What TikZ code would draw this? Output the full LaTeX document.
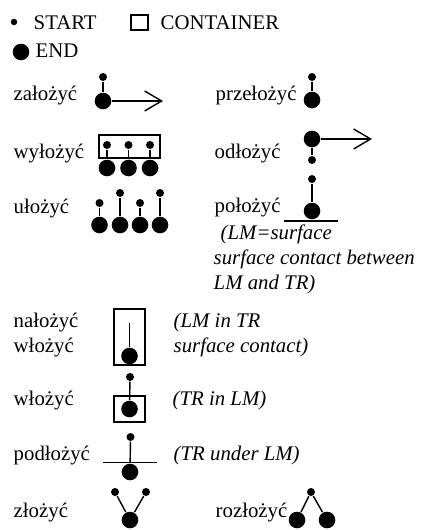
\documentclass[tikz,border=0pt]{standalone}
\usepackage{fontspec}
\setmainfont{Liberation Serif}
\usetikzlibrary{arrows.meta}
\begin{document}
\begin{tikzpicture}[x=1pt,y=-1pt,
  line width=1.4pt,
  sdot/.style={circle,fill=black,draw=none,inner sep=0pt,minimum size=8pt},
  bdot/.style={circle,fill=black,draw=none,inner sep=0pt,minimum size=16.6pt},
  lbl/.style={anchor=base west,inner sep=0pt,font=\fontsize{20.8}{25}\selectfont},
  note/.style={lbl,font=\fontsize{20.8}{25}\selectfont\itshape},
  stem/.style={line width=1.4pt},
  arr/.style={-{Straight Barb[length=17pt,width=20pt,line width=1.4pt]},line width=1.4pt},
  box/.style={line width=1.6pt}]
\useasboundingbox (0,0) rectangle (424,530);

% legend
\node[circle,fill=black,inner sep=0pt,minimum size=6.5pt] (legS) at (14,22) {};
\node[lbl] (legStart) at (33,29) {START};
\draw[box] (131,15) rectangle (148,30);
\node[lbl] (legCont) at (160,29) {CONTAINER};
\node[bdot] (legE) at (21,52) {};
\node[lbl] (legEnd) at (35,57) {END};

% założyć
\node[lbl] (t1) at (13,100) {założyć};
\node[sdot] (z1s) at (103,77) {};
\node[bdot] (z1b) at (103,101) {};
\coordinate (z1e) at (163,101);
\draw[stem] (z1s) -- (z1b);
\draw[arr] (z1b) -- (z1e);

% przełożyć
\node[lbl] (t2) at (215,100) {przełożyć};
\node[sdot] (p1s) at (312,77) {};
\node[bdot] (p1b) at (312,100) {};
\draw[stem] (p1s) -- (p1b);

% wyłożyć
\node[lbl] (t3) at (13,158) {wyłożyć};
\draw[box] (99,135) rectangle (160,158);
\foreach \i/\x in {1/107,2/128.5,3/150}{
  \node[sdot] (w\i s) at (\x,145) {};
  \node[bdot] (w\i b) at (\x,168) {};
  \draw[stem] (w\i s) -- (w\i b);
}

% odłożyć
\node[lbl] (t4) at (214,158) {odłożyć};
\node[bdot] (o1b) at (312,139) {};
\node[sdot] (o1s) at (312,160) {};
\coordinate (o1e) at (372,139);
\draw[stem] (o1b) -- (o1s);
\draw[arr] (o1b) -- (o1e);

% ułożyć
\node[lbl] (t5) at (13,213) {ułożyć};
\foreach \i/\x/\y in {1/99.5/203,2/120/193,3/140/203,4/160/193}{
  \node[sdot] (u\i s) at (\x,\y) {};
  \node[bdot] (u\i b) at (\x,225) {};
  \draw[stem] (u\i s) -- (u\i b);
}

% położyć
\node[lbl] (t6) at (214,212) {położyć};
\node[sdot] (l1s) at (312,179) {};
\node[bdot] (l1b) at (312,211) {};
\coordinate (l1a) at (284,221);
\coordinate (l1c) at (338,221);
\draw[stem] (l1s) -- (l1b);
\draw[stem] (l1a) -- (l1c);
\node[note] (n1) at (220,239) {(LM=surface};
\node[note] (n2) at (213,264) {surface contact between};
\node[note] (n3) at (213,289) {LM and TR)};

% nałożyć / włożyć
\node[lbl] (t7) at (13,327) {nałożyć};
\node[lbl] (t8) at (13,352) {włożyć};
\draw[box] (114,309) rectangle (145,365);
\coordinate (k1s) at (129.5,323);
\node[bdot] (k1b) at (129.5,356) {};
\draw[stem] (k1s) -- (k1b);
\node[note] (n4) at (173,327) {(LM in TR};
\node[note] (n5) at (173,352) {surface contact)};

% włożyć (TR in LM)
\node[lbl] (t9) at (13,405) {włożyć};
\draw[box] (114,396) rectangle (145,422);
\node[sdot] (k2s) at (130,377) {};
\node[bdot] (k2b) at (129.5,409) {};
\draw[stem] (k2s) -- (k2b);
\node[note] (n6) at (172,405) {(TR in LM)};

% podłożyć
\node[lbl] (t10) at (13,460) {podłożyć};
\node[sdot] (d1s) at (130.5,437) {};
\node[bdot] (d1b) at (130,472) {};
\coordinate (d1a) at (103,462.5);
\coordinate (d1c) at (157,462.5);
\draw[stem] (d1s) -- (d1b);
\draw[stem] (d1a) -- (d1c);
\node[note] (n7) at (173,460) {(TR under LM)};

% złożyć
\node[lbl] (t11) at (13,517) {złożyć};
\node[sdot] (y1s) at (115,492) {};
\node[sdot] (y2s) at (146,492) {};
\node[bdot] (y1b) at (130,520) {};
\draw[stem] (y1s) -- (y1b);
\draw[stem] (y2s) -- (y1b);

% rozłożyć
\node[lbl] (t12) at (215,517) {rozłożyć};
\node[sdot] (r1s) at (311,492) {};
\node[bdot] (r1b) at (297,520) {};
\node[bdot] (r2b) at (327,520) {};
\draw[stem] (r1s) -- (r1b);
\draw[stem] (r1s) -- (r2b);
\end{tikzpicture}
\end{document}
